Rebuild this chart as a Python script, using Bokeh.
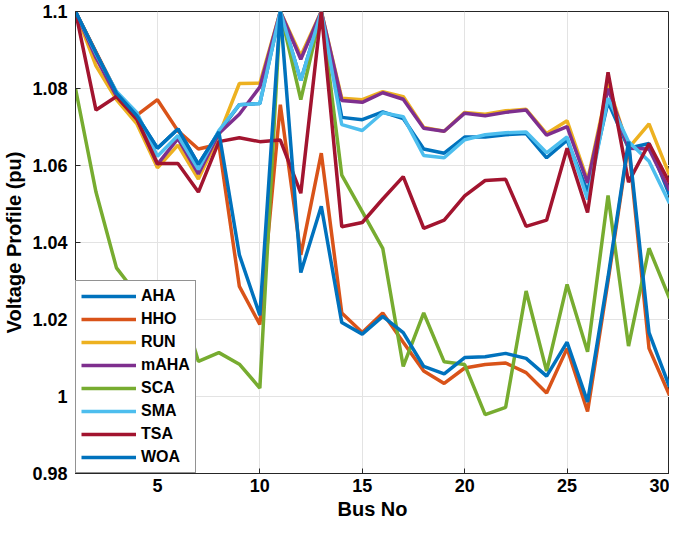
from bokeh.plotting import figure
from bokeh.models import Range1d, FixedTicker, CustomJSTickFormatter, Legend, LegendItem
from bokeh.embed import file_html
from bokeh.resources import INLINE

bus = list(range(1, 31))

aha = [1.1, 1.0893, 1.0788, 1.0729, 1.0645, 1.0695, 1.0603, 1.0687, 1.0758, 1.0761,
       1.1, 1.0821, 1.1, 1.0725, 1.0719, 1.0739, 1.0722, 1.0643, 1.0632, 1.0674,
       1.0674, 1.068, 1.0683, 1.062, 1.0666, 1.0532, 1.0765, 1.0645, 1.0657, 1.0523]
hho = [1.1, 1.0895, 1.0790, 1.0731, 1.0771, 1.0690, 1.0643, 1.0655, 1.0286, 1.0187,
       1.0758, 1.0368, 1.0632, 1.0217, 1.0166, 1.0217, 1.0141, 1.0066, 1.0034, 1.0074,
       1.0083, 1.0087, 1.0062, 1.0009, 1.0125, 0.9961, 1.030, 1.0655, 1.0125, 1.0003]
run = [1.1, 1.0859, 1.0771, 1.0708, 1.0594, 1.0653, 1.0565, 1.0678, 1.0813, 1.0814,
       1.1, 1.0885, 1.1, 1.0775, 1.0771, 1.0792, 1.0779, 1.0699, 1.0689, 1.0738,
       1.0733, 1.0742, 1.0746, 1.0683, 1.0716, 1.0561, 1.081, 1.0645, 1.0708, 1.0575]
maha = [1.1, 1.088, 1.078, 1.072, 1.0603, 1.067, 1.0578, 1.0683, 1.0733, 1.0804,
        1.1, 1.0876, 1.1, 1.0769, 1.0764, 1.0789, 1.0772, 1.0697, 1.0689, 1.0736,
        1.0729, 1.0738, 1.0744, 1.0679, 1.0701, 1.0555, 1.080, 1.0645, 1.0643, 1.0535]
sca = [1.08, 1.0531, 1.0334, 1.0265, 1.024, 1.027, 1.0091, 1.0114, 1.0084, 1.0022,
       1.1, 1.0771, 1.1, 1.0575, 1.048, 1.0385, 1.0078, 1.0217, 1.009, 1.0083,
       0.9953, 0.9972, 1.0274, 1.0066, 1.0291, 1.0116, 1.0522, 1.0131, 1.0385, 1.0255]
sma = [1.1, 1.089, 1.0792, 1.0737, 1.0624, 1.0678, 1.059, 1.0691, 1.0758, 1.0761,
       1.1, 1.0821, 1.1, 1.0706, 1.0691, 1.0737, 1.0727, 1.0626, 1.062, 1.0667,
       1.068, 1.0685, 1.0687, 1.0633, 1.0674, 1.0512, 1.0775, 1.0662, 1.0611, 1.0502]
tsa = [1.1, 1.0744, 1.0779, 1.072, 1.0605, 1.0605, 1.0531, 1.0662, 1.0672, 1.0662,
       1.0666, 1.0528, 1.1, 1.0441, 1.0452, 1.0513, 1.0571, 1.0437, 1.0458, 1.0521,
       1.0561, 1.0564, 1.0442, 1.0458, 1.0645, 1.0478, 1.0842, 1.0557, 1.0657, 1.0555]
woa = [1.1, 1.0893, 1.0788, 1.0729, 1.0645, 1.0695, 1.0603, 1.0687, 1.0368, 1.0211,
       1.1, 1.0322, 1.0494, 1.0192, 1.0162, 1.0208, 1.0166, 1.0078, 1.0059, 1.0101,
       1.0103, 1.0112, 1.0099, 1.0053, 1.0141, 0.9986, 1.031, 1.0662, 1.0166, 1.0025]

names = ["AHA", "HHO", "RUN", "mAHA", "SCA", "SMA", "TSA", "WOA"]
series = [aha, hho, run, maha, sca, sma, tsa, woa]
colors = ["#0072BD", "#D95319", "#EDB120", "#7E2F8E", "#77AC30", "#4DBEEE", "#A2142F", "#0072BD"]

x_ticks = [5, 10, 15, 20, 25, 30]
y_ticks = [0.98, 1.0, 1.02, 1.04, 1.06, 1.08, 1.1]

FONT = "Liberation Sans"

p = figure(width=669, height=522, output_backend="svg", toolbar_location=None,
           x_range=Range1d(1, 30), y_range=Range1d(0.98, 1.1),
           min_border_left=60, min_border_right=0, min_border_top=11, min_border_bottom=0)
p.background_fill_color = "white"
p.border_fill_color = "white"
p.outline_line_color = "#262626"
p.outline_line_width = 1

items = []
for name, ys, c in zip(names, series, colors):
    r = p.line(bus, ys, line_color=c, line_width=3.5)
    items.append(LegendItem(label=name, renderers=[r]))

p.xaxis.ticker = FixedTicker(ticks=x_ticks)
p.yaxis.ticker = FixedTicker(ticks=y_ticks)
p.yaxis.formatter = CustomJSTickFormatter(code="""
    var s = tick.toFixed(2);
    s = s.replace(/0+$/, '').replace(/\\.$/, '');
    return s;
""")
for ax in (p.xaxis, p.yaxis):
    ax.major_label_text_font = FONT
    ax.major_label_text_font_style = "bold"
    ax.major_label_text_font_size = "18px"
    ax.major_label_text_color = "black"
    ax.axis_label_text_font = FONT
    ax.axis_label_text_font_style = "bold"
    ax.axis_label_text_font_size = "20px"
    ax.axis_label_text_color = "black"
    ax.axis_line_color = "#262626"
    ax.major_tick_line_color = "#262626"
    ax.major_tick_in = 5
    ax.major_tick_out = 0
    ax.minor_tick_line_color = None
p.xaxis.axis_label = "Bus No"
p.yaxis.axis_label = "Voltage Profile (pu)"
p.xaxis.major_label_standoff = 5
p.xaxis.axis_label_standoff = 3
p.yaxis.major_label_standoff = 8
p.yaxis.axis_label_standoff = 4

p.xgrid.grid_line_color = "#e3e3e3"
p.ygrid.grid_line_color = "#e3e3e3"
p.xgrid.ticker = FixedTicker(ticks=x_ticks)
p.ygrid.ticker = FixedTicker(ticks=y_ticks)

legend = Legend(items=items, location="bottom_left")
legend.margin = 0
legend.padding = 5
legend.spacing = 3
legend.glyph_width = 55
legend.glyph_height = 20
legend.label_height = 20
legend.label_standoff = 5
legend.label_text_font = FONT
legend.label_text_font_style = "bold"
legend.label_text_font_size = "16px"
legend.label_text_color = "black"
legend.border_line_color = "#262626"
legend.border_line_width = 1
legend.background_fill_color = "white"
legend.background_fill_alpha = 1
p.add_layout(legend)

open("out.html", "w").write(file_html(p, INLINE))
